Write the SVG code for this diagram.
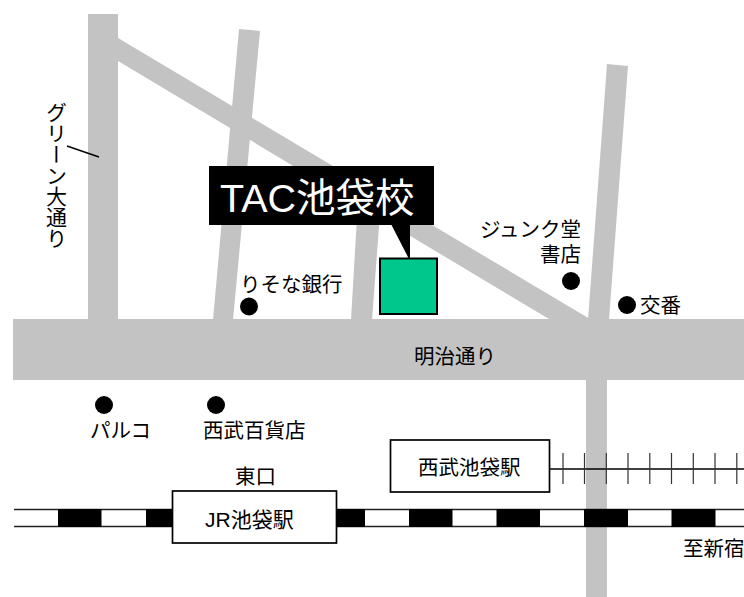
<svg xmlns="http://www.w3.org/2000/svg" width="744" height="597" viewBox="0 0 744 597" lang="ja">
<style>
.road{fill:#c3c3c3}
.dot{fill:#000}
text{font-family:"Liberation Sans","Noto Sans CJK JP",sans-serif;font-size:20.500px;fill:#000}
.box{fill:#fff;stroke:#000;stroke-width:1.700}
.blk{fill:#000}
.tick{stroke:#333;stroke-width:1.2}
</style>
<rect width="744" height="597" fill="#fff"/>
<g id="roads">
<rect class="road" x="13" y="319" width="731" height="61"/>
<rect class="road" x="88" y="14" width="30" height="306"/>
<rect class="road" x="586" y="379" width="21" height="218"/>
<path class="road" d="M118 38L590 319L549 319L118 61Z"/>
<path class="road" d="M239 29L260 31L233 320H213Z"/>
<path class="road" d="M358 200L381 200L372 320H351Z"/>
<path class="road" d="M607 64L628 66L609 320H588Z"/>
</g>
<g id="rail-jr">
<rect x="14" y="509.5" width="730" height="17" fill="#fff"/>
<path d="M14 509.500H744M14 526.500H744" stroke="#222" stroke-width="1.600" fill="none"/>
<path class="blk" d="M58 509h43.500v18H58zM146 509h27v18h-27zM337 509h28v18h-28zM409 509h43.500v18H409zM496.500 509h43.500v18h-43.500zM584 509h44v18h-44zM671.500 509h44v18h-44z"/>
</g>
<g id="rail-seibu">
<line x1="550" y1="469" x2="744" y2="469" stroke="#000" stroke-width="1.600"/>
<path class="tick" d="M563 453V484M584.500 453V484M606.300 453V484M628 453V484M649.800 453V484M671.500 453V484M693.300 453V484M715 453V484M736.800 453V484"/>
</g>
<g id="connectors">
<line x1="67" y1="146" x2="99" y2="157" stroke="#000" stroke-width="1.500"/>
</g>
<g id="node-tac">
<rect class="blk" x="209" y="166" width="225" height="59"/>
<path class="blk" d="M391 224H410V259H409Z"/>
<text x="220" y="212" style="font-size:39.500px;fill:#fff">TAC池袋校</text>
</g>
<g id="node-school">
<rect x="380" y="258.500" width="57" height="55.500" fill="#00c78c" stroke="#000" stroke-width="2"/>
</g>
<g id="node-green-street"><text x="55" y="102" style="writing-mode:vertical-rl;font-size:21px">グリーン大通り</text></g>
<g id="node-resona"><circle class="dot" cx="249" cy="306.500" r="9"/><text x="240" y="292">りそな銀行</text></g>
<g id="node-junkudo"><circle class="dot" cx="571" cy="281" r="9"/><text x="581" y="237" text-anchor="end">ジュンク堂</text><text x="581" y="262" text-anchor="end">書店</text></g>
<g id="node-koban"><circle class="dot" cx="627" cy="305" r="9"/><text x="640" y="312.500">交番</text></g>
<g id="node-meiji"><text x="414" y="363.500">明治通り</text></g>
<g id="node-parco"><circle class="dot" cx="104" cy="405" r="9"/><text x="90" y="438">パルコ</text></g>
<g id="node-seibu-store"><circle class="dot" cx="216" cy="405" r="9"/><text x="203" y="438">西武百貨店</text></g>
<g id="node-east"><text x="235" y="484">東口</text></g>
<g id="node-jr"><rect class="box" x="172.500" y="491" width="164" height="52"/><text x="205" y="526.500" style="font-size:21px">JR池袋駅</text></g>
<g id="node-seibu"><rect class="box" x="390.500" y="440" width="159" height="52"/><text x="418" y="474.500">西武池袋駅</text></g>
<g id="node-shinjuku"><text x="683" y="556">至新宿</text></g>
</svg>
